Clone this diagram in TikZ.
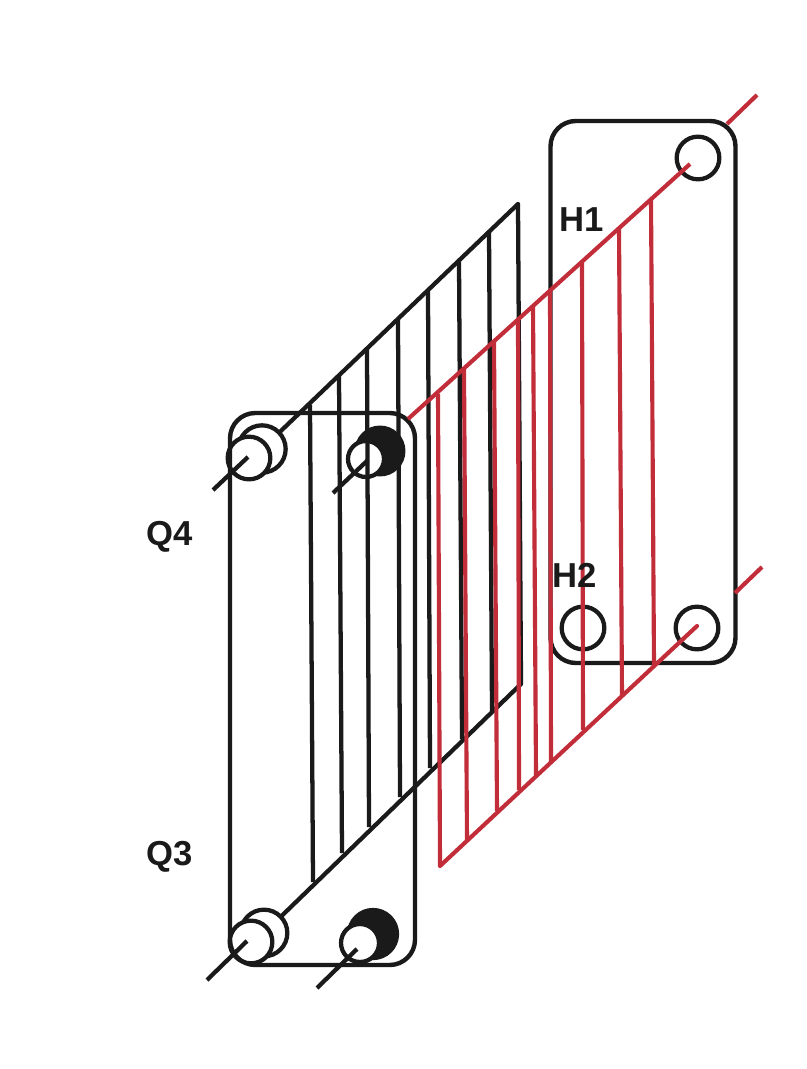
\documentclass[tikz,border=0pt]{standalone}
\usepackage{fontspec}
\setmainfont{Liberation Sans}
\definecolor{plate red}{HTML}{C22D3A}
\definecolor{plate black}{HTML}{1A1A1A}
\begin{document}
\begin{tikzpicture}[
            x=0.75pt, y=-0.75pt,
            plate/.style={rectangle, draw=plate black, line width=3.3pt, rounded corners=19pt, minimum width=138.75pt},
            port/.style={circle, draw=plate black, line width=3.2pt, fill=white, inner sep=0pt},
            portdark/.style={port, fill=plate black},
            bbar/.style={plate black, line width=3.2pt},
            rbar/.style={plate red, line width=3.1pt},
            tag/.style={font=\fontsize{26}{26}\selectfont\bfseries, text=plate black, inner sep=0pt}
        ]
            \useasboundingbox (0,0) rectangle (806,1069);

            % --- H plate ---
            \node[plate, minimum height=406.5pt] (hplate) at (643,392) {};
            \node[port, minimum size=32pt] (h1port) at (698,158) {};
            \node[port, minimum size=32pt] (h2port) at (583,628) {};
            \node[port, minimum size=32pt] (h3port) at (697,628) {};

            % --- Q plate ports ---
            \node[port, minimum size=35.5pt] (q4back) at (262,449) {};
            \node[port, minimum size=32pt] (q4front) at (249,458) {};
            \node[portdark, minimum size=35pt] (q4darkback) at (380,451) {};
            \node[port, minimum size=27pt] (q4darkfront) at (366,459) {};
            \node[port, minimum size=35pt] (q3back) at (264,933) {};
            \node[port, minimum size=32pt] (q3front) at (251,942) {};
            \node[portdark, minimum size=36pt] (q3darkback) at (373,934) {};
            \node[port, minimum size=28.5pt] (q3darkfront) at (360,943) {};

            \node[plate, minimum height=414pt] (qplate) at (322.5,689) {};

            % --- black sheet ---
            \coordinate (bt1) at (310,405);
            \coordinate (bt2) at (339,375);
            \coordinate (bt3) at (367,349);
            \coordinate (bt4) at (398,319);
            \coordinate (bt5) at (428,290);
            \coordinate (bt6) at (459,262);
            \coordinate (bt7) at (489,232);
            \coordinate (bt8) at (518,204);
            \coordinate (bb1) at (313,882);
            \coordinate (bb2) at (342,853);
            \coordinate (bb3) at (369,827);
            \coordinate (bb4) at (400,797);
            \coordinate (bb5) at (430,768);
            \coordinate (bb6) at (462,739);
            \coordinate (bb7) at (492,711);
            \coordinate (bb8) at (521,684);

            \draw[bbar] (bt1) -- (bb1);
            \draw[bbar] (bt2) -- (bb2);
            \draw[bbar] (bt3) -- (bb3);
            \draw[bbar] (bt4) -- (bb4);
            \draw[bbar] (bt5) -- (bb5);
            \draw[bbar] (bt6) -- (bb6);
            \draw[bbar] (bt7) -- (bb7);
            \draw[bbar] (bt8) -- (bb8);
            \draw[bbar, line cap=round] (q4back) -- (bt8);
            \draw[bbar, line cap=round] (q3back) -- (bb8);

            % --- black stubs ---
            \coordinate (q4out) at (213,490);
            \coordinate (q4in) at (248,457);
            \coordinate (q4darkout) at (333,493);
            \coordinate (q4darkin) at (368,460);
            \coordinate (q3out) at (207,980);
            \coordinate (q3in) at (247,941);
            \coordinate (q3darkout) at (317,988);
            \coordinate (q3darkin) at (357,949);
            \draw[bbar] (q4out) -- (q4in);
            \draw[bbar] (q4darkout) -- (q4darkin);
            \draw[bbar] (q3out) -- (q3in);
            \draw[bbar] (q3darkout) -- (q3darkin);

            % --- red sheet ---
            \coordinate (rt1) at (438,394);
            \coordinate (rt2) at (464,369);
            \coordinate (rt3) at (494,342);
            \coordinate (rt4) at (518,319);
            \coordinate (rt5) at (533,306);
            \coordinate (rt6) at (550,290);
            \coordinate (rt7) at (582,261);
            \coordinate (rt8) at (619,228);
            \coordinate (rt9) at (651,199);
            \coordinate (rb1) at (440,866);
            \coordinate (rb2) at (467,842);
            \coordinate (rb3) at (497,811);
            \coordinate (rb4) at (519,790);
            \coordinate (rb5) at (536,775);
            \coordinate (rb6) at (551,762);
            \coordinate (rb7) at (583,730);
            \coordinate (rb8) at (622,696);
            \coordinate (rb9) at (654,665);

            \draw[rbar] (rt1) -- (rb1);
            \draw[rbar] (rt2) -- (rb2);
            \draw[rbar] (rt3) -- (rb3);
            \draw[rbar] (rt4) -- (rb4);
            \draw[rbar] (rt5) -- (rb5);
            \draw[rbar] (rt6) -- (rb6);
            \draw[rbar] (rt7) -- (rb7);
            \draw[rbar] (rt8) -- (rb8);
            \draw[rbar] (rt9) -- (rb9);

            \coordinate (rtstart) at (408,419);
            \coordinate (rtend) at (690,164);
            \coordinate (rbend) at (697,626);
            \draw[rbar] (rtstart) -- (rtend);
            \draw[rbar, line cap=round] (rb1) -- (rbend);

            % --- red stubs ---
            \coordinate (h1out) at (757,95);
            \coordinate (h1in) at (727,124);
            \coordinate (h3out) at (762,567);
            \coordinate (h3in) at (735,593);
            \draw[rbar] (h1in) -- (h1out);
            \draw[rbar] (h3in) -- (h3out);

            % --- labels ---
            \node[tag] (h1tag) at (582,220) {H1};
            \node[tag] (h2tag) at (575,575) {H2};
            \node[tag] (q4tag) at (170,537) {Q4};
            \node[tag] (q3tag) at (170,857) {Q3};

        \end{tikzpicture}
\end{document}
